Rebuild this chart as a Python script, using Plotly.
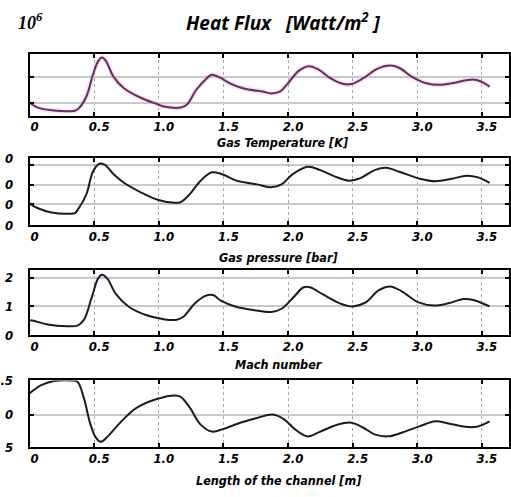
import plotly.graph_objects as go
from plotly.subplots import make_subplots

# ---- data ----
heat_x = [0.0, 0.064, 0.17, 0.35, 0.38, 0.44, 0.49, 0.53, 0.56, 0.59, 0.65, 0.73, 0.86, 0.99, 1.04, 1.17,
          1.22, 1.29, 1.37, 1.41, 1.47, 1.55, 1.65, 1.81, 1.87, 1.94, 2.0, 2.08, 2.16, 2.24, 2.33, 2.43,
          2.49, 2.58, 2.69, 2.79, 2.86, 2.96, 3.07, 3.17, 3.27, 3.39, 3.46, 3.52, 3.56]
heat_flux = [1.0, 0.81, 0.71, 0.69, 0.78, 1.25, 2.08, 2.6, 2.75, 2.62, 2.0, 1.56, 1.19, 0.94, 0.85, 0.81,
             0.94, 1.5, 1.94, 2.08, 1.98, 1.75, 1.56, 1.42, 1.36, 1.44, 1.75, 2.22, 2.41, 2.27, 1.94, 1.72,
             1.72, 1.94, 2.31, 2.44, 2.35, 2.0, 1.75, 1.69, 1.75, 1.88, 1.88, 1.75, 1.62]

temp_x = [0.0, 0.064, 0.17, 0.31, 0.35, 0.38, 0.44, 0.49, 0.54, 0.58, 0.65, 0.73, 0.86, 0.99, 1.12, 1.17,
          1.24, 1.32, 1.41, 1.49, 1.60, 1.76, 1.87, 1.95, 2.03, 2.15, 2.25, 2.36, 2.47, 2.56, 2.67, 2.76,
          2.86, 3.02, 3.14, 3.27, 3.38, 3.47, 3.56]
gas_temp = [1.03, 0.79, 0.57, 0.51, 0.54, 0.79, 1.52, 2.67, 3.08, 3.03, 2.54, 2.10, 1.61, 1.23, 1.07, 1.11,
            1.52, 2.18, 2.64, 2.54, 2.21, 2.02, 1.87, 2.02, 2.51, 2.92, 2.75, 2.43, 2.21, 2.34, 2.75, 2.87,
            2.67, 2.31, 2.18, 2.31, 2.46, 2.38, 2.10]

pres_x = [0.0, 0.03, 0.14, 0.29, 0.37, 0.42, 0.48, 0.53, 0.56, 0.60, 0.67, 0.77, 0.90, 1.03, 1.13, 1.19,
          1.28, 1.36, 1.42, 1.48, 1.59, 1.74, 1.87, 1.95, 2.04, 2.12, 2.17, 2.27, 2.40, 2.50, 2.60, 2.70,
          2.79, 2.88, 3.01, 3.13, 3.24, 3.36, 3.44, 3.56]
gas_pressure = [0.52, 0.50, 0.37, 0.31, 0.33, 0.53, 1.31, 1.98, 2.11, 1.98, 1.42, 0.98, 0.70, 0.56, 0.53, 0.64,
                1.11, 1.37, 1.40, 1.20, 1.0, 0.87, 0.81, 0.92, 1.31, 1.67, 1.67, 1.42, 1.11, 1.0, 1.14, 1.56,
                1.70, 1.53, 1.14, 1.03, 1.11, 1.26, 1.22, 1.0]

mach_x = [0.0, 0.09, 0.19, 0.32, 0.37, 0.42, 0.47, 0.51, 0.55, 0.60, 0.71, 0.83, 0.99, 1.12, 1.17, 1.24,
          1.32, 1.41, 1.50, 1.63, 1.76, 1.88, 1.97, 2.05, 2.15, 2.25, 2.38, 2.49, 2.58, 2.67, 2.77, 2.89,
          3.02, 3.14, 3.24, 3.37, 3.46, 3.56]
mach = [0.31, 0.43, 0.49, 0.50, 0.48, 0.24, -0.14, -0.33, -0.40, -0.33, -0.10, 0.10, 0.23, 0.28, 0.26, 0.10,
        -0.14, -0.25, -0.21, -0.12, -0.05, 0.0, -0.07, -0.21, -0.32, -0.25, -0.15, -0.12, -0.19, -0.29, -0.32, -0.26,
        -0.17, -0.10, -0.13, -0.18, -0.18, -0.10]

x_ticks = [0, 0.5, 1.0, 1.5, 2.0, 2.5, 3.0, 3.5]
x_ticktext = ["0", "0.5", "1.0", "1.5", "2.0", "2.5", "3.0", "3.5"]

W, H = 511, 497

def yd(top, bottom):
    return [(H - bottom) / H, (H - top) / H]

fig = make_subplots(rows=4, cols=1)

lab_font = dict(family="Liberation Sans Narrow, DejaVu Sans Condensed, Arial Narrow", size=13,
                color="black", weight="bold", style="italic")

# heat flux with faint pinkish halo
fig.add_trace(go.Scatter(x=heat_x, y=heat_flux, mode="lines", line=dict(color="rgba(235,170,225,0.35)", width=5, shape="spline"),
                         hoverinfo="skip", showlegend=False), row=1, col=1)
fig.add_trace(go.Scatter(x=heat_x, y=heat_flux, mode="lines", line=dict(color="#5e3358", width=2, shape="spline"),
                         showlegend=False), row=1, col=1)
fig.add_trace(go.Scatter(x=temp_x, y=gas_temp, mode="lines", line=dict(color="#1b1b28", width=2, shape="spline"),
                         showlegend=False), row=2, col=1)
fig.add_trace(go.Scatter(x=pres_x, y=gas_pressure, mode="lines", line=dict(color="#1b1b28", width=2, shape="spline"),
                         showlegend=False), row=3, col=1)
fig.add_trace(go.Scatter(x=mach_x, y=mach, mode="lines", line=dict(color="#1b1b28", width=2, shape="spline"),
                         showlegend=False), row=4, col=1)

x_dom = [24.0 / W, 1.0]
panels = [
    dict(top=48, bottom=112, yr=[0.5, 2.9], tv=[1, 2], tt=["1", "2"], show=False, minor=[]),
    dict(top=156, bottom=225, yr=[-0.08, 3.36], tv=[-0.08, 1, 2, 3.36], tt=["0", "0", "0", "0"], show=True, minor=[3]),
    dict(top=270.7, bottom=338.3, yr=[0.0, 2.29], tv=[0, 1, 2], tt=["0", "1", "2"], show=True, minor=[]),
    dict(top=385, bottom=454, yr=[-0.48, 0.5], tv=[-0.48, 0, 0.5], tt=["5", "0", ".5"], show=True, minor=[]),
]

for i, p in enumerate(panels, start=1):
    xa = "xaxis" if i == 1 else f"xaxis{i}"
    ya = "yaxis" if i == 1 else f"yaxis{i}"
    fig.layout[xa].update(domain=x_dom, range=[0, 3.71], tickvals=x_ticks, ticktext=x_ticktext,
                          showline=True, linecolor="black", linewidth=2, mirror="ticks",
                          ticks="inside", ticklen=4, tickwidth=2, tickcolor="black",
                          showgrid=True, gridcolor="#a8a8a8", griddash="dot", gridwidth=1,
                          zeroline=False, tickfont=lab_font, ticklabelshift=5, ticklabelstandoff=-2)
    fig.layout[ya].update(domain=yd(p["top"], p["bottom"]), range=p["yr"], tickvals=p["tv"], ticktext=p["tt"],
                          showticklabels=p["show"],
                          showline=True, linecolor="black", linewidth=2, mirror="ticks",
                          ticks="inside", ticklen=4, tickwidth=2, tickcolor="black",
                          showgrid=True, gridcolor="#c8c8c8", gridwidth=1.5,
                          zeroline=False, tickfont=lab_font, ticklabelstandoff=12)
    if p["minor"]:
        fig.layout[ya].update(minor=dict(tickvals=p["minor"], showgrid=True, gridcolor="#c8c8c8",
                                         gridwidth=1.5, ticks="inside", ticklen=4, tickwidth=2, tickcolor="black"))

sub_font = dict(family="Liberation Sans Narrow, DejaVu Sans Condensed, Arial Narrow", size=12.5,
                color="black", weight="bold", style="italic")
annots = [
    dict(text="Heat Flux\u00a0\u00a0 [Watt/m<sup>2</sup>\u00a0]", x=282 / W, y=1 - 15 / H,
         font=dict(family="Open Sans, DejaVu Sans", size=19, color="black", weight="bold", style="italic")),
    dict(text="10<sup>6</sup>", x=25 / W, y=1 - 15 / H,
         font=dict(family="Liberation Serif, DejaVu Serif", size=18, color="black", weight="bold", style="italic")),
    dict(text="Gas Temperature [K]", x=281 / W, y=1 - 140 / H, font=sub_font),
    dict(text="Gas pressure [bar]", x=277 / W, y=1 - 258 / H, font=sub_font),
    dict(text="Mach number", x=277 / W, y=1 - 369 / H, font=sub_font),
    dict(text="Length of the channel [m]", x=277 / W, y=1 - 488 / H, font=sub_font),
]
for a in annots:
    fig.add_annotation(xref="paper", yref="paper", xanchor="center", yanchor="middle", showarrow=False, **a)

fig.update_layout(width=W, height=H, margin=dict(l=0, r=0, t=0, b=0),
                  paper_bgcolor="white", plot_bgcolor="white", showlegend=False)

fig.write_html("out.html", config={"displayModeBar": False},
               post_script="document.body.style.margin='0';document.body.style.overflow='hidden';")
